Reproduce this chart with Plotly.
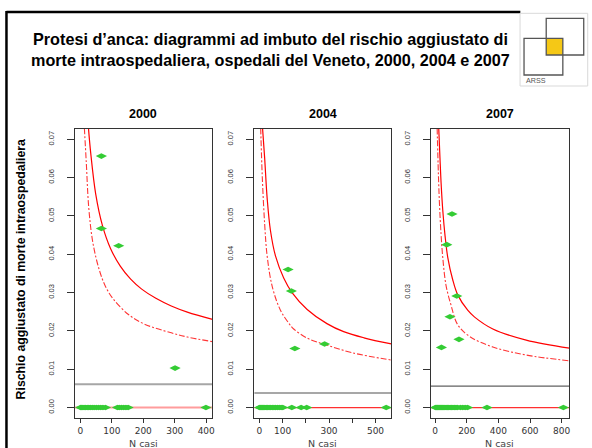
import plotly.graph_objects as go

# --- dati ---
anni = ["2000", "2004", "2007"]

# tasso medio regionale (linea orizzontale) e limite inferiore (0)
media = [0.0061, 0.0038, 0.0056]
limite_inf = [0.0, 0.0, 0.0]

# limite superiore (linea continua)
sup_n_2000 = [26, 33, 49, 70, 96, 127, 160, 195, 240, 289, 340, 420]
sup_p_2000 = [0.0729, 0.0665, 0.0557, 0.0476, 0.0415, 0.0369, 0.0335, 0.0309, 0.0285, 0.0265, 0.0249, 0.0230]
sup_n_2004 = [14, 23, 34, 48, 70, 105, 141, 206, 291, 363, 450, 568]
sup_p_2004 = [0.0729, 0.0652, 0.0545, 0.0462, 0.0395, 0.0338, 0.0300, 0.0256, 0.0219, 0.0198, 0.0182, 0.0166]
sup_n_2007 = [23, 31, 38, 49, 63, 80, 111, 143, 206, 250, 365, 576, 849]
sup_p_2007 = [0.0729, 0.0650, 0.0585, 0.0512, 0.0448, 0.0392, 0.0334, 0.0294, 0.0254, 0.0236, 0.0205, 0.0176, 0.0155]

# limite di allerta (tratto-punto)
all_n_2000 = [13, 19, 27, 40, 60, 80, 104, 154, 206, 289, 340, 420]
all_p_2000 = [0.0729, 0.0640, 0.0520, 0.0430, 0.0360, 0.0316, 0.0284, 0.0242, 0.0217, 0.0195, 0.0184, 0.0172]
all_n_2004 = [6, 13, 23, 34, 56, 91, 127, 148, 210, 291, 400, 568]
all_p_2004 = [0.0729, 0.0600, 0.0480, 0.0395, 0.0315, 0.0254, 0.0220, 0.0205, 0.0180, 0.0163, 0.0143, 0.0124]
all_n_2007 = [13, 21, 28, 38, 49, 69, 101, 143, 220, 365, 576, 849]
all_p_2007 = [0.0729, 0.0607, 0.0528, 0.0450, 0.0389, 0.0319, 0.0267, 0.0216, 0.0185, 0.0158, 0.0137, 0.0122]

# ospedali (N casi, rischio aggiustato)
osp_n_2000 = [67, 67, 122, 301, 399,
              1, 4, 8, 12, 17, 22, 27, 32, 38, 44, 51, 58, 65, 72, 80, 118, 124, 131, 138, 145, 152]
osp_p_2000 = [0.0656, 0.0467, 0.0422, 0.0103, 0.0] + [0.0] * 21
osp_n_2004 = [124, 138, 153, 281,
              1, 5, 9, 14, 19, 24, 30, 36, 42, 49, 56, 63, 70, 78, 86, 94, 101, 140, 180, 204, 546]
osp_p_2004 = [0.0360, 0.0304, 0.0154, 0.0166] + [0.0] * 21
osp_n_2007 = [107, 74, 137, 94, 40, 151,
              3, 8, 13, 18, 24, 30, 36, 42, 48, 55, 62, 70, 78, 86, 95, 104, 113, 122, 132, 142,
              160, 175, 190, 205, 328, 811]
osp_p_2007 = [0.0505, 0.0425, 0.0291, 0.0237, 0.0157, 0.0178] + [0.0] * 26

y_ticks = [0.00, 0.01, 0.02, 0.03, 0.04, 0.05, 0.06, 0.07]
x_ticks = [[0, 100, 200, 300, 400], [0, 100, 200, 300, 400, 500], [0, 200, 400, 600, 800]]
x_labels = [["0", "100", "200", "300", "400"], ["0", "100", "", "300", "", "500"],
            ["0", "200", "400", "600", "800"]]
x_range = [[-18, 419], [-21, 568], [-29, 849]]
y_range = [-0.0028, 0.0728]

sup_n = [sup_n_2000, sup_n_2004, sup_n_2007]
sup_p = [sup_p_2000, sup_p_2004, sup_p_2007]
all_n = [all_n_2000, all_n_2004, all_n_2007]
all_p = [all_p_2000, all_p_2004, all_p_2007]
osp_n = [osp_n_2000, osp_n_2004, osp_n_2007]
osp_p = [osp_p_2000, osp_p_2004, osp_p_2007]

W, H = 592, 448
SANS = "Liberation Sans, Arial, sans-serif"
WIDE = "DejaVu Sans, Verdana, sans-serif"


def px(x):
    return x / W


def py(y):
    return 1 - y / H


def testo(txt, x, y, size, family=SANS, color="black", angle=0, xanchor="center"):
    fig.add_annotation(text=txt, x=px(x), y=py(y), xref="paper", yref="paper", showarrow=False,
                       xanchor=xanchor, yanchor="middle", textangle=angle,
                       font=dict(family=family, size=size, color=color))


# posizione dei riquadri (pixel)
box_x = [(75, 213.3), (255.7, 393.3), (432.7, 572.3)]
box_top, box_bot = 128.5, 418.3
media_col = ["#a6a6a6", "#8a8a8a", "#3a3a3a"]
media_w = [2, 1.5, 1]
zero_col = ["#ff9c9c", "#ff3030", "#ff3030"]
zero_w = [2, 1.2, 1.2]
standoff = [10, 10, 10]

fig = go.Figure()

for i in range(3):
    sfx = "" if i == 0 else str(i + 1)
    xa, ya = "x" + sfx, "y" + sfx
    fig.add_trace(go.Scatter(x=sup_n[i], y=sup_p[i], mode="lines", line_shape="spline",
                             line=dict(color="#ff0000", width=1.2), xaxis=xa, yaxis=ya,
                             showlegend=False, hoverinfo="skip"))
    fig.add_trace(go.Scatter(x=all_n[i], y=all_p[i], mode="lines", line_shape="spline",
                             line=dict(color="#ff3535", width=1.1, dash="6px,2px,2px,2px"),
                             xaxis=xa, yaxis=ya, showlegend=False, hoverinfo="skip"))
    fig.add_trace(go.Scatter(x=osp_n[i], y=osp_p[i], mode="markers",
                             marker=dict(symbol="diamond-wide", size=8, color="#34cc34"),
                             xaxis=xa, yaxis=ya, showlegend=False, cliponaxis=False))

    fig.add_shape(type="line", xref=xa + " domain", yref=ya, x0=0, x1=1, y0=media[i], y1=media[i],
                  line=dict(color=media_col[i], width=media_w[i]), layer="below")
    fig.add_shape(type="line", xref=xa + " domain", yref=ya, x0=0, x1=1,
                  y0=limite_inf[i], y1=limite_inf[i],
                  line=dict(color=zero_col[i], width=zero_w[i]), layer="below")

    axis_common = dict(showgrid=False, zeroline=False, showline=True, mirror=True,
                       linecolor="#333333", linewidth=1, ticks="outside",
                       tickcolor="#333333")
    fig.layout["xaxis" + sfx] = dict(axis_common, domain=[px(box_x[i][0]), px(box_x[i][1])],
                                      range=x_range[i], tickvals=x_ticks[i], ticktext=x_labels[i],
                                      ticklen=4,
                                      tickfont=dict(family=WIDE, size=9, color="#333333"),
                                      anchor=ya)
    fig.layout["yaxis" + sfx] = dict(axis_common, domain=[py(box_bot), py(box_top)],
                                      range=y_range, tickvals=y_ticks, tickformat=".2f",
                                      ticklen=7, tickangle=-90, ticklabelstandoff=standoff[i],
                                      tickfont=dict(family=SANS, size=7.5, color="#333333"),
                                      anchor=xa)

    cx = (box_x[i][0] + box_x[i][1]) / 2
    testo("<b>" + anni[i] + "</b>", cx, 114.3, 12.5)
    testo("N casi", cx, 443, 9.5, family=WIDE, color="#444444")

# titolo
testo("<b>Protesi d’anca: diagrammi ad imbuto del rischio aggiustato di</b>", 272, 38.5, 16.2)
testo("<b>morte intraospedaliera, ospedali del Veneto, 2000, 2004 e 2007</b>", 272, 60, 16.2)
testo("<b>Rischio aggiustato di morte intraospedaliera</b>", 21.5, 269, 12.3, angle=-90)

# cornice della slide
fig.add_shape(type="line", xref="paper", yref="paper", x0=px(6.5), x1=px(523), y0=py(12), y1=py(12),
              line=dict(color="black", width=2.5))
fig.add_shape(type="line", xref="paper", yref="paper", x0=px(6.5), x1=px(6.5), y0=py(11), y1=py(460),
              line=dict(color="black", width=2.5))

# logo ARSS
fig.add_shape(type="rect", xref="paper", yref="paper", x0=px(522.7), x1=px(590.7), y0=py(86),
              y1=py(13.3), line=dict(color="#d9d9d9", width=1), fillcolor="white")
fig.add_shape(type="rect", xref="paper", yref="paper", x0=px(549), x1=px(565.7), y0=py(55),
              y1=py(38.3), line=dict(width=0), fillcolor="#f5c816")
fig.add_shape(type="rect", xref="paper", yref="paper", x0=px(549), x1=px(586.7), y0=py(55),
              y1=py(18.3), line=dict(color="#555555", width=1.3))
fig.add_shape(type="rect", xref="paper", yref="paper", x0=px(526.7), x1=px(565.7), y0=py(75),
              y1=py(38.3), line=dict(color="#555555", width=1.3))
testo("ARSS", 526.5, 80.5, 7.2, color="#555555", xanchor="left")

fig.update_layout(width=W, height=H, margin=dict(l=0, r=0, t=0, b=0),
                  paper_bgcolor="white", plot_bgcolor="white", showlegend=False)

fig.write_html("out.html", config={"displayModeBar": False},
               post_script="document.body.style.margin='0';")
